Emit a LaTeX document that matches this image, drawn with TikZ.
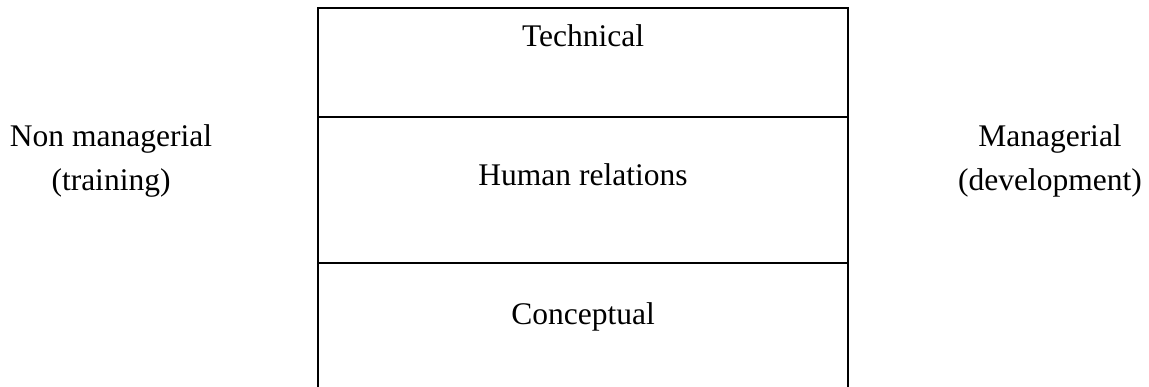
\documentclass[tikz,border=0pt]{standalone}
\usepackage{fontspec}
\setmainfont{Liberation Serif}
\begin{document}
\begin{tikzpicture}[x=1pt,y=-1pt,
  frame/.style={line width=1.6pt, draw=black},
  lbl/.style={font=\fontsize{31.5}{44}\selectfont, anchor=base, inner sep=0pt, align=center}]
\useasboundingbox (0,0) rectangle (1149,387);
\coordinate (tl) at (318,8);
\coordinate (tr) at (848,8);
\coordinate (bl) at (318,387);
\coordinate (br) at (848,387);
\coordinate (d1l) at (318,117);
\coordinate (d1r) at (848,117);
\coordinate (d2l) at (318,263);
\coordinate (d2r) at (848,263);
\draw[frame] (bl) -- (tl) -- (tr) -- (br);
\draw[frame] (d1l) -- (d1r);
\draw[frame] (d2l) -- (d2r);
\node[lbl] (tech) at (583,47) {Technical};
\node[lbl] (human) at (583,186) {Human relations};
\node[lbl] (concept) at (583,325) {Conceptual};
\node[lbl] (nonman1) at (111,147) {Non managerial};
\node[lbl] (nonman2) at (111,191) {(training)};
\node[lbl] (man1) at (1050,147) {Managerial};
\node[lbl] (man2) at (1050,191) {(development)};
\end{tikzpicture}
\end{document}
